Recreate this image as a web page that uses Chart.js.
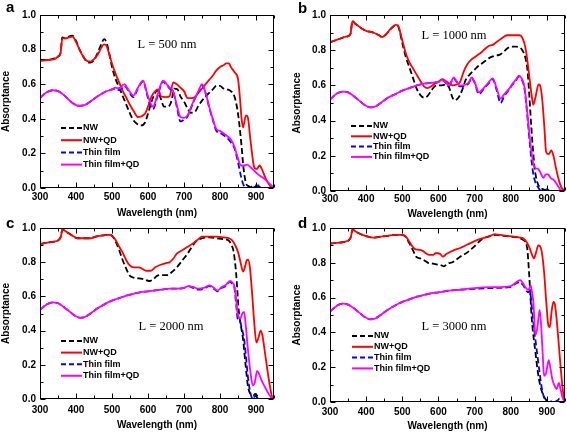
<!DOCTYPE html>
<html>
<head>
<meta charset="utf-8">
<script src="https://cdn.jsdelivr.net/npm/chart.js@4.4.0/dist/chart.umd.min.js"></script>
<style>
  html, body { margin: 0; padding: 0; background: #fff; }
  #wrap { position: relative; width: 567px; height: 433px; }
  #wrap canvas { position: absolute; left: 0; top: 0; }
</style>
</head>
<body>
<div id="wrap">
  <canvas id="pa" width="567" height="433"></canvas>
  <canvas id="pb" width="567" height="433"></canvas>
  <canvas id="pc" width="567" height="433"></canvas>
  <canvas id="pd" width="567" height="433"></canvas>
</div>
<script>
// axis ticks and series names
const wavelengthTicks = [300, 400, 500, 600, 700, 800, 900];
const absorptanceTicks = [0, 0.2, 0.4, 0.6, 0.8, 1.0];
const seriesNames = ['NW', 'NW+QD', 'Thin film', 'Thin film+QD'];

// panel a, L = 500 nm  ([wavelength, absorptance])
const aNW = [[300,.74],[320,.74],[340,.75],[350,.76],[357,.78],[362,.87],[370,.865],[380,.875],[390,.88],[400,.85],[410,.80],[420,.76],[430,.73],[440,.725],[450,.74],[460,.78],[470,.83],[478,.86],[485,.84],[490,.80],[500,.70],[510,.63],[520,.58],[530,.53],[540,.48],[550,.43],[560,.39],[570,.37],[582,.362],[592,.38],[600,.43],[610,.50],[620,.55],[626,.565],[635,.52],[645,.47],[655,.47],[663,.49],[674,.575],[682,.57],[690,.53],[700,.50],[710,.46],[718,.435],[730,.44],[740,.475],[750,.505],[760,.53],[770,.55],[780,.57],[790,.59],[800,.59],[810,.575],[820,.57],[830,.56],[840,.53],[850,.43],[860,.24],[865,.12],[872,.03],[880,.01],[890,0],[900,.01],[908,.015],[915,0],[950,0]];
const aNWQD = [[300,.735],[320,.74],[340,.745],[350,.76],[357,.78],[362,.865],[370,.865],[380,.87],[390,.875],[400,.845],[410,.80],[420,.76],[430,.735],[440,.73],[450,.745],[460,.77],[470,.81],[478,.83],[485,.82],[490,.79],[500,.72],[510,.66],[520,.61],[530,.56],[540,.52],[550,.48],[560,.445],[572,.41],[582,.415],[592,.43],[600,.47],[610,.53],[620,.56],[628,.57],[636,.53],[650,.525],[660,.53],[670,.61],[680,.60],[690,.58],[700,.56],[710,.52],[720,.52],[730,.525],[740,.55],[750,.575],[760,.60],[770,.625],[780,.65],[790,.68],[800,.70],[810,.71],[818,.72],[825,.72],[830,.70],[840,.67],[850,.63],[855,.53],[860,.40],[864,.35],[872,.42],[877,.41],[885,.27],[895,.12],[902,.11],[910,.13],[918,.10],[928,.05],[940,.01],[950,0]];
const aTF = [[300,.52],[310,.54],[320,.555],[335,.565],[350,.56],[365,.54],[380,.51],[395,.485],[410,.475],[425,.48],[440,.50],[460,.53],[480,.555],[500,.57],[510,.575],[520,.565],[534,.59],[545,.565],[559,.525],[572,.575],[586,.615],[600,.52],[614,.455],[625,.52],[642,.615],[650,.60],[660,.575],[670,.555],[680,.47],[690,.385],[700,.395],[710,.415],[720,.465],[730,.515],[740,.555],[750,.595],[760,.545],[770,.465],[780,.395],[790,.33],[800,.32],[810,.305],[820,.29],[830,.265],[840,.23],[850,.15],[858,.07],[865,.02],[872,.005],[880,0],[890,.01],[900,.015],[908,.01],[915,0],[950,0]];
const aTFQD = [[300,.52],[310,.54],[320,.555],[335,.565],[350,.56],[365,.54],[380,.51],[395,.485],[410,.475],[425,.48],[440,.50],[460,.53],[480,.555],[500,.57],[510,.58],[520,.575],[534,.60],[545,.57],[559,.535],[572,.58],[586,.62],[600,.53],[614,.47],[625,.53],[642,.62],[650,.605],[660,.58],[670,.56],[680,.48],[690,.41],[700,.405],[710,.42],[720,.47],[730,.52],[740,.56],[750,.60],[760,.55],[770,.47],[780,.40],[790,.34],[800,.33],[810,.315],[820,.30],[830,.28],[840,.24],[850,.17],[858,.13],[867,.13],[875,.135],[885,.12],[895,.10],[905,.08],[915,.065],[925,.05],[935,.03],[945,.01],[950,0]];

// panel b, L = 1000 nm
const bNW = [[300,.845],[320,.86],[340,.875],[350,.88],[357,.895],[362,.965],[370,.95],[380,.935],[390,.92],[400,.91],[420,.90],[435,.885],[445,.875],[455,.89],[465,.915],[475,.935],[483,.945],[490,.93],[500,.84],[510,.76],[520,.70],[530,.64],[540,.58],[550,.545],[560,.53],[570,.54],[580,.57],[590,.595],[600,.60],[610,.60],[620,.605],[630,.585],[638,.535],[645,.515],[655,.53],[665,.57],[675,.63],[690,.67],[700,.69],[710,.71],[720,.725],[730,.74],[740,.755],[750,.765],[760,.77],[770,.775],[780,.79],[790,.81],[800,.82],[815,.82],[825,.815],[832,.80],[840,.76],[846,.69],[852,.52],[857,.36],[862,.22],[866,.13],[872,.06],[880,.02],[890,.01],[900,0],[950,0]];
const bNWQD = [[300,.845],[320,.86],[340,.875],[350,.88],[357,.895],[362,.965],[370,.95],[380,.935],[390,.92],[400,.91],[420,.90],[435,.885],[445,.875],[455,.89],[465,.915],[475,.935],[483,.945],[490,.93],[500,.855],[510,.78],[520,.73],[530,.695],[540,.66],[550,.625],[560,.595],[570,.585],[580,.595],[590,.61],[600,.62],[610,.635],[620,.625],[630,.61],[640,.60],[650,.605],[660,.62],[670,.68],[680,.72],[690,.745],[700,.76],[710,.775],[720,.79],[730,.81],[740,.825],[750,.83],[760,.845],[770,.86],[780,.875],[790,.885],[800,.885],[815,.885],[825,.885],[832,.87],[840,.82],[846,.74],[852,.64],[858,.54],[862,.49],[868,.53],[877,.605],[881,.60],[887,.52],[893,.36],[898,.22],[905,.21],[912,.23],[918,.20],[925,.13],[932,.07],[940,.02],[950,0]];
const bTF = [[300,.52],[320,.555],[335,.565],[350,.56],[365,.54],[380,.515],[395,.49],[412,.475],[425,.48],[440,.50],[460,.53],[480,.55],[500,.57],[520,.585],[540,.60],[560,.61],[580,.615],[600,.62],[610,.63],[620,.615],[628,.595],[636,.62],[642,.64],[650,.62],[658,.595],[666,.595],[675,.60],[683,.61],[692,.64],[700,.615],[712,.55],[725,.58],[738,.61],[750,.635],[760,.58],[772,.50],[782,.54],[795,.575],[805,.605],[815,.63],[822,.65],[830,.635],[838,.58],[847,.40],[855,.22],[862,.10],[868,.05],[876,.02],[884,0],[895,.005],[900,.01],[910,0],[950,0]];
const bTFQD = [[300,.52],[320,.555],[335,.565],[350,.56],[365,.54],[380,.515],[395,.49],[412,.475],[425,.48],[440,.50],[460,.53],[480,.55],[500,.57],[520,.585],[540,.60],[560,.61],[580,.615],[600,.62],[610,.63],[620,.62],[628,.60],[636,.625],[642,.645],[650,.625],[658,.60],[666,.60],[675,.605],[683,.615],[692,.645],[700,.62],[712,.56],[725,.585],[738,.615],[750,.64],[760,.59],[772,.525],[782,.55],[795,.58],[805,.61],[815,.635],[822,.655],[830,.64],[838,.59],[847,.42],[855,.26],[862,.16],[868,.13],[876,.125],[883,.10],[890,.075],[897,.095],[903,.095],[910,.075],[920,.06],[930,.03],[938,.005],[950,0]];

// panel c, L = 2000 nm
const cNW = [[300,.905],[320,.915],[340,.92],[352,.93],[358,.95],[362,.99],[375,.975],[390,.955],[405,.94],[420,.94],[440,.94],[455,.95],[470,.955],[490,.96],[500,.955],[510,.92],[520,.87],[530,.81],[540,.76],[550,.72],[560,.71],[575,.705],[590,.70],[603,.69],[615,.70],[625,.72],[640,.725],[655,.725],[665,.74],[680,.77],[695,.81],[710,.85],[722,.89],[735,.925],[750,.94],[770,.945],[790,.94],[810,.935],[825,.925],[832,.90],[838,.86],[845,.73],[852,.52],[858,.43],[864,.35],[871,.20],[878,.07],[885,.03],[892,.02],[898,.03],[903,.02],[910,0],[950,0]];
const cNWQD = [[300,.905],[320,.915],[340,.92],[352,.93],[358,.95],[362,.99],[375,.975],[390,.955],[405,.94],[420,.94],[440,.94],[455,.95],[470,.955],[490,.96],[500,.955],[510,.93],[520,.89],[530,.855],[540,.81],[550,.78],[560,.77],[575,.77],[585,.76],[595,.75],[608,.75],[620,.77],[635,.785],[650,.795],[660,.80],[670,.82],[680,.85],[695,.87],[710,.89],[725,.91],[740,.935],[750,.95],[770,.95],[790,.95],[810,.945],[825,.94],[835,.925],[842,.90],[850,.86],[857,.80],[864,.745],[869,.77],[874,.81],[878,.815],[883,.77],[888,.65],[895,.45],[901,.33],[907,.36],[913,.40],[918,.37],[925,.27],[933,.15],[940,.06],[945,.01],[950,0]];
const cTF = [[300,.52],[320,.555],[335,.565],[350,.56],[365,.54],[380,.515],[395,.49],[412,.475],[425,.48],[440,.50],[460,.53],[480,.555],[500,.575],[520,.59],[540,.605],[560,.615],[580,.625],[600,.63],[620,.635],[640,.64],[660,.645],[680,.645],[700,.65],[712,.66],[725,.65],[740,.64],[755,.645],[770,.66],[780,.65],[793,.63],[805,.65],[815,.66],[828,.685],[835,.67],[840,.65],[845,.55],[849,.47],[856,.45],[862,.40],[867,.35],[872,.25],[878,.12],[885,.03],[892,0],[898,.02],[903,.01],[910,0],[950,0]];
const cTFQD = [[300,.52],[320,.555],[335,.565],[350,.56],[365,.54],[380,.515],[395,.49],[412,.475],[425,.48],[440,.50],[460,.53],[480,.555],[500,.575],[520,.59],[540,.605],[560,.615],[580,.625],[600,.63],[620,.635],[640,.64],[660,.645],[680,.645],[700,.65],[712,.66],[725,.655],[740,.645],[755,.65],[770,.665],[780,.655],[793,.635],[805,.655],[815,.665],[828,.69],[835,.68],[840,.66],[845,.58],[849,.50],[856,.47],[862,.50],[867,.51],[872,.42],[878,.28],[885,.15],[891,.08],[897,.10],[903,.165],[908,.15],[915,.11],[925,.07],[935,.03],[942,.01],[950,0]];

// panel d, L = 3000 nm
const dNW = [[300,.91],[320,.915],[340,.92],[352,.93],[358,.95],[362,.99],[375,.975],[390,.96],[405,.95],[420,.945],[440,.95],[460,.955],[480,.96],[500,.96],[506,.955],[512,.94],[520,.91],[530,.87],[538,.835],[550,.825],[560,.815],[571,.80],[585,.795],[598,.79],[608,.785],[615,.78],[625,.795],[640,.805],[660,.835],[680,.86],[697,.89],[720,.935],[743,.955],[760,.96],[780,.955],[800,.95],[820,.945],[835,.93],[845,.89],[851,.73],[858,.48],[868,.29],[875,.17],[881,.10],[887,.055],[895,.02],[905,0],[950,0]];
const dNWQD = [[300,.91],[320,.915],[340,.92],[352,.93],[358,.95],[362,.99],[375,.975],[390,.96],[405,.95],[420,.945],[440,.95],[460,.955],[480,.96],[500,.96],[510,.95],[520,.92],[534,.88],[545,.875],[555,.87],[565,.855],[575,.845],[585,.845],[592,.855],[598,.855],[605,.85],[612,.835],[622,.85],[640,.87],[660,.885],[680,.905],[700,.925],[720,.94],[740,.95],[755,.965],[770,.96],[790,.955],[810,.95],[825,.945],[835,.94],[845,.915],[853,.88],[860,.84],[864,.825],[870,.86],[876,.90],[881,.895],[886,.86],[892,.75],[898,.58],[904,.44],[908,.43],[913,.52],[918,.575],[923,.55],[928,.45],[934,.30],[940,.15],[945,.05],[950,0]];
const dTF = [[300,.52],[320,.555],[335,.565],[350,.56],[365,.54],[380,.515],[395,.49],[412,.475],[425,.48],[440,.50],[460,.53],[480,.555],[500,.575],[520,.59],[540,.605],[560,.615],[580,.625],[600,.63],[630,.64],[660,.645],[700,.65],[750,.655],[798,.66],[810,.675],[825,.69],[833,.675],[842,.645],[848,.63],[853,.64],[858,.55],[863,.45],[868,.36],[873,.28],[879,.18],[885,.09],[890,.04],[896,.01],[905,0],[915,.005],[920,0],[930,.01],[935,.02],[940,0],[950,0]];
const dTFQD = [[300,.52],[320,.555],[335,.565],[350,.56],[365,.54],[380,.515],[395,.49],[412,.475],[425,.48],[440,.50],[460,.53],[480,.555],[500,.575],[520,.59],[540,.605],[560,.615],[580,.625],[600,.63],[630,.64],[660,.645],[700,.655],[750,.66],[798,.665],[810,.68],[826,.70],[833,.685],[842,.655],[849,.645],[855,.67],[859,.63],[863,.56],[868,.385],[873,.42],[880,.53],[884,.44],[889,.25],[892,.15],[898,.17],[905,.24],[910,.19],[915,.13],[920,.10],[927,.075],[933,.11],[938,.07],[944,.02],[950,0]];

const colors = ['#000000', '#ff0000', '#0000ff', '#ff00ff'];
const dashes = [[6, 3], [], [6, 3], []];
const sansFont = '"Liberation Sans", Arial, sans-serif';
const serifFont = '"Liberation Serif", "Times New Roman", serif';

Chart.defaults.font.family = sansFont;
Chart.defaults.color = '#000';

// frame with inward ticks, legend, panel letter and L label
const decoPlugin = {
    id: 'deco',
    afterDraw(chart, args, opts) {
        const { ctx, chartArea: a, scales: { x, y } } = chart;
        const L = Math.round(a.left) + 0.5, R = Math.round(a.right) - 0.5;
        const T = Math.round(a.top) + 0.5, B = Math.round(a.bottom) - 0.5;
        ctx.save();
        ctx.strokeStyle = '#000';
        ctx.lineWidth = 1;
        ctx.setLineDash([]);
        ctx.strokeRect(L, T, R - L, B - T);
        ctx.beginPath();
        for (let v = 300; v <= 950; v += 50) {
            const px = Math.round(x.getPixelForValue(v)) + 0.5;
            const len = v % 100 === 0 ? 5 : 3;
            ctx.moveTo(px, B); ctx.lineTo(px, B - len);
            ctx.moveTo(px, T); ctx.lineTo(px, T + len);
        }
        for (let i = 0; i <= 10; i++) {
            const py = Math.round(y.getPixelForValue(i / 10)) + 0.5;
            const len = i % 2 === 0 ? 5 : 3;
            ctx.moveTo(L, py); ctx.lineTo(L + len, py);
            ctx.moveTo(R, py); ctx.lineTo(R - len, py);
        }
        ctx.stroke();

        // legend inside the plot
        const lg = opts.legend;
        ctx.font = 'bold 9px ' + sansFont;
        ctx.textBaseline = 'middle';
        ctx.textAlign = 'left';
        chart.data.datasets.forEach((ds, i) => {
            const yy = a.top + lg.y + i * lg.gap;
            ctx.beginPath();
            ctx.strokeStyle = ds.borderColor;
            ctx.lineWidth = 2;
            ctx.setLineDash(ds.borderDash.length ? [5, 3] : []);
            ctx.moveTo(a.left + lg.x, yy);
            ctx.lineTo(a.left + lg.x + 21, yy);
            ctx.stroke();
            ctx.fillStyle = '#000';
            ctx.fillText(ds.label, a.left + lg.x + 22, yy);
        });

        // panel letter
        ctx.font = 'bold 15px ' + sansFont;
        ctx.textBaseline = 'alphabetic';
        ctx.fillText(opts.letter, opts.letterPos[0], opts.letterPos[1]);

        // thickness label
        ctx.font = '12.5px ' + serifFont;
        ctx.textAlign = 'center';
        ctx.fillText(opts.label, opts.labelPos[0], opts.labelPos[1]);
        ctx.restore();
    }
};

const panels = [
    { id: 'pa', series: [aNW, aNWQD, aTF, aTFQD], letter: 'a', letterPos: [6, 12], label: 'L = 500 nm', labelPos: [167, 47.5],
      box: { l: 40, r: 274, t: 15, b: 188 }, xTitleGap: 25, xTickPad: 3, yTitlePad: 0, legend: { x: 21, y: 113, gap: 12.2 } },
    { id: 'pb', series: [bNW, bNWQD, bTF, bTFQD], letter: 'b', letterPos: [298, 12.5], label: 'L = 1000 nm', labelPos: [454, 39],
      box: { l: 330, r: 565, t: 15, b: 191 }, xTitleGap: 23, xTickPad: 2, yTitlePad: 1, legend: { x: 21, y: 111, gap: 10.3 } },
    { id: 'pc', series: [cNW, cNWQD, cTF, cTFQD], letter: 'c', letterPos: [6, 227.5], label: 'L = 2000 nm', labelPos: [171, 329.5],
      box: { l: 40, r: 274, t: 228, b: 399 }, xTitleGap: 26, xTickPad: 5, yTitlePad: 0, legend: { x: 21, y: 113, gap: 11.6 } },
    { id: 'pd', series: [dNW, dNWQD, dTF, dTFQD], letter: 'd', letterPos: [298, 227.5], label: 'L = 3000 nm', labelPos: [454, 330],
      box: { l: 330, r: 565, t: 228, b: 402 }, xTitleGap: 24, xTickPad: 4, yTitlePad: 1, legend: { x: 22, y: 108, gap: 10.8 } }
];

function makePanel(p) {
    const yw = 40;
    const xh = p.xTitleGap + 6;
    new Chart(document.getElementById(p.id), {
        type: 'line',
        data: {
            datasets: p.series.map((s, i) => ({
                label: seriesNames[i],
                data: s.map(pt => ({ x: pt[0], y: pt[1] })),
                borderColor: colors[i],
                borderWidth: 1.8,
                borderDash: dashes[i],
                pointRadius: 0,
                fill: false,
                cubicInterpolationMode: 'monotone',
                order: 4 - i
            }))
        },
        options: {
            responsive: false,
            animation: false,
            devicePixelRatio: 1,
            events: [],
            layout: {
                padding: { left: p.box.l - yw, right: 567 - p.box.r, top: p.box.t, bottom: 433 - p.box.b - xh }
            },
            scales: {
                x: {
                    type: 'linear', min: 300, max: 950,
                    afterBuildTicks: s => { s.ticks = wavelengthTicks.map(v => ({ value: v })); },
                    afterFit: s => { s.height = xh; },
                    grid: { display: false, drawTicks: false },
                    border: { display: false },
                    ticks: { padding: p.xTickPad, autoSkip: false, maxRotation: 0, font: { size: 10, weight: 'bold' } },
                    title: { display: true, text: 'Wavelength (nm)', padding: 0, font: { size: 10, weight: 'bold' } }
                },
                y: {
                    type: 'linear', min: 0, max: 1,
                    afterBuildTicks: s => { s.ticks = absorptanceTicks.map(v => ({ value: v })); },
                    afterFit: s => { s.width = yw; },
                    grid: { display: false, drawTicks: false },
                    border: { display: false },
                    ticks: { padding: 4, callback: v => v.toFixed(1), font: { size: 10, weight: 'bold' } },
                    title: { display: true, text: 'Absorptance', padding: { top: p.yTitlePad, bottom: 0 }, font: { size: 10, weight: 'bold' } }
                }
            },
            plugins: {
                legend: { display: false },
                tooltip: { enabled: false },
                deco: { legend: p.legend, letter: p.letter, letterPos: p.letterPos, label: p.label, labelPos: p.labelPos }
            }
        },
        plugins: [decoPlugin]
    });
}

panels.forEach(makePanel);
</script>
</body>
</html>
